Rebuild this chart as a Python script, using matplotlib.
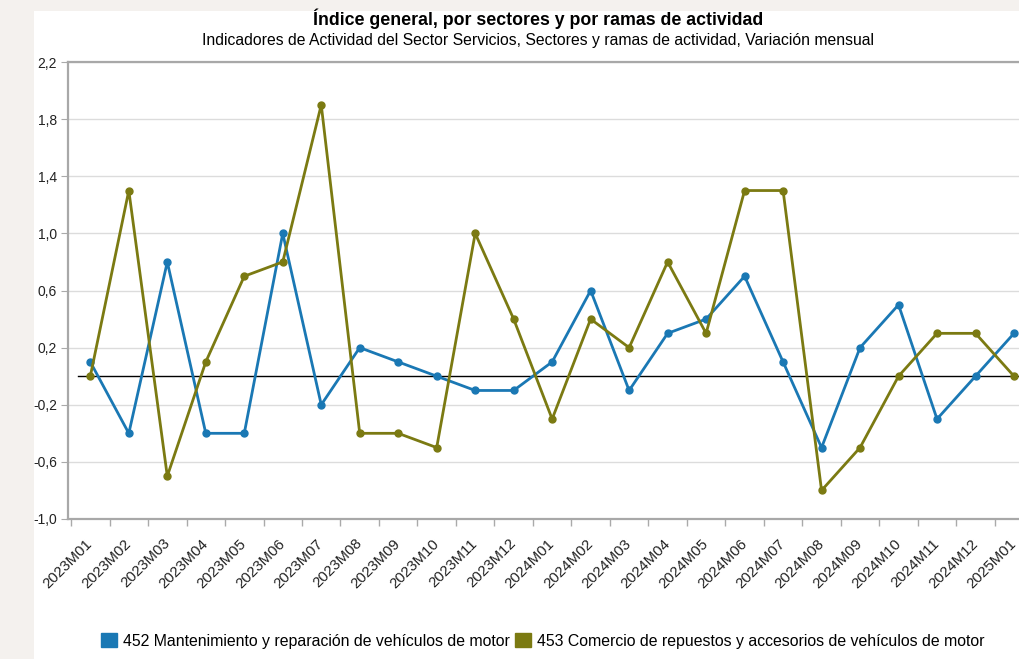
import matplotlib
matplotlib.use("Agg")
import matplotlib.pyplot as plt
from matplotlib.patches import Rectangle, Patch
from matplotlib.ticker import FuncFormatter

plt.rcParams["font.family"] = ["Liberation Sans", "DejaVu Sans"]

months = ["2023M01", "2023M02", "2023M03", "2023M04", "2023M05", "2023M06",
          "2023M07", "2023M08", "2023M09", "2023M10", "2023M11", "2023M12",
          "2024M01", "2024M02", "2024M03", "2024M04", "2024M05", "2024M06",
          "2024M07", "2024M08", "2024M09", "2024M10", "2024M11", "2024M12",
          "2025M01"]
s452 = [0.1, -0.4, 0.8, -0.4, -0.4, 1.0, -0.2, 0.2, 0.1, 0.0, -0.1, -0.1,
        0.1, 0.6, -0.1, 0.3, 0.4, 0.7, 0.1, -0.5, 0.2, 0.5, -0.3, 0.0, 0.3]
s453 = [0.0, 1.3, -0.7, 0.1, 0.7, 0.8, 1.9, -0.4, -0.4, -0.5, 1.0, 0.4,
        -0.3, 0.4, 0.2, 0.8, 0.3, 1.3, 1.3, -0.8, -0.5, 0.0, 0.3, 0.3, 0.0]
name452 = "452 Mantenimiento y reparación de vehículos de motor"
name453 = "453 Comercio de repuestos y accesorios de vehículos de motor"
yticks = [-1.0, -0.6, -0.2, 0.2, 0.6, 1.0, 1.4, 1.8, 2.2]

BLUE = "#1a78b4"
OLIVE = "#7b7a12"

fig = plt.figure(figsize=(10.19, 6.59), dpi=100, facecolor="#f4f1ee")
# white panel behind everything
fig.patches.append(Rectangle((34 / 1019, 0), 1, 1 - 11 / 659, transform=fig.transFigure,
                             fc="white", ec="none", zorder=-10))

ax = fig.add_axes([68 / 1019, 1 - 519 / 659, 1 - 68 / 1019, (519 - 62) / 659])
ax.set_facecolor("white")
x = list(range(len(months)))

ax.plot(x, s452, color=BLUE, lw=2.0, marker="o", ms=5, zorder=3, clip_on=False)
ax.plot(x, s453, color=OLIVE, lw=2.0, marker="o", ms=5, zorder=3, clip_on=False)
ax.axhline(0, color="black", lw=1, xmin=0.01, zorder=2)

ax.set_yticks(yticks)
ax.yaxis.set_major_formatter(FuncFormatter(lambda v, p: f"{v:.1f}".replace(".", ",")))
ax.grid(axis="y", color="#dcdcdc", lw=1)
ax.set_axisbelow(True)

# ticks sit between the months, labels under each month
ax.set_xticks([i - 0.5 for i in range(len(months) + 1)])
ax.set_xticklabels([])
ax.set_xticks(x, minor=True)
ax.set_xticklabels(months, minor=True, rotation=45, ha="right", va="center",
                   rotation_mode="anchor", fontsize=10.8, color="#222222")
ax.tick_params(axis="x", which="minor", length=0, pad=16)
ax.tick_params(axis="x", which="major", length=5, color="#aaaaaa", width=1)
ax.tick_params(axis="y", length=5, color="#aaaaaa", labelsize=10, labelcolor="#222222", pad=3)

# limits after ticks, the chart is cut at the right edge
ax.set_xlim(-0.58, 24.13)
ax.set_ylim(-1.0, 2.2)

ax.spines["right"].set_visible(False)
for side in ["left", "bottom", "top"]:
    ax.spines[side].set_color("#a8a8a8")
    ax.spines[side].set_linewidth(1.6)

fig.text(538 / 1019, 1 - 19 / 659, "Índice general, por sectores y por ramas de actividad",
         ha="center", va="center", fontsize=12.8, fontweight="bold")
fig.text(538 / 1019, 1 - 41 / 659,
         "Indicadores de Actividad del Sector Servicios, Sectores y ramas de actividad, Variación mensual",
         ha="center", va="center", fontsize=11.3)

handles = [Patch(fc=BLUE, ec=BLUE), Patch(fc=OLIVE, ec=OLIVE)]
fig.legend(handles, [name452, name453], loc="center", bbox_to_anchor=(543 / 1019, 1 - 641 / 659),
           ncol=2, frameon=False, fontsize=11.4, handlelength=1.0, handleheight=1.0,
           handletextpad=0.4, columnspacing=0.3)

fig.savefig("out.png", dpi=100, facecolor=fig.get_facecolor())
